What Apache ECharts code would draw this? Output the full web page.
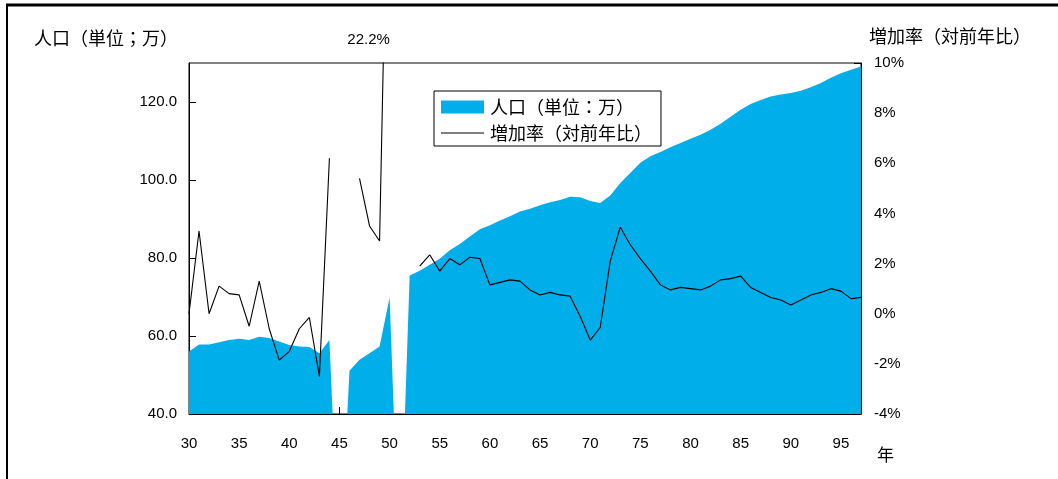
<!DOCTYPE html>
<html>
<head>
<meta charset="utf-8">
<script src="https://cdn.jsdelivr.net/npm/echarts@6/dist/echarts.min.js"></script>
<style>
html,body{margin:0;padding:0;background:#fff;}
#main{width:1058px;height:479px;}
</style>
</head>
<body>
<div id="main"></div>
<script>
const years = [30,31,32,33,34,35,36,37,38,39,40,41,42,43,44,45,46,47,48,49,50,51,52,53,54,55,56,57,58,59,60,61,62,63,64,65,66,67,68,69,70,71,72,73,74,75,76,77,78,79,80,81,82,83,84,85,86,87,88,89,90,91,92,93,94,95,96,97];
const population = [56.0,57.8,57.8,58.4,59.0,59.3,59.0,59.8,59.5,58.6,57.7,57.3,57.2,55.6,59.0,0,51.1,53.9,55.6,57.3,69.9,0,75.5,76.7,78.3,79.8,82.0,83.6,85.5,87.4,88.4,89.6,90.7,91.9,92.6,93.5,94.3,94.9,95.7,95.6,94.6,94.1,96.0,99.2,101.8,104.4,106.1,107.2,108.4,109.5,110.6,111.6,112.9,114.4,116.2,118.0,119.5,120.5,121.4,121.9,122.3,122.9,123.8,124.9,126.2,127.4,128.3,129.1];
const growthRate = [0.0,3.3,0.0,1.1,0.8,0.75,-0.5,1.3,-0.6,-1.85,-1.5,-0.6,-0.15,-2.5,6.2,null,null,5.4,3.5,2.9,22.2,null,null,1.9,2.35,1.7,2.2,1.95,2.25,2.2,1.15,1.25,1.35,1.3,0.95,0.75,0.85,0.75,0.7,-0.1,-1.05,-0.55,2.1,3.45,2.75,2.2,1.7,1.15,0.95,1.05,1.0,0.95,1.1,1.35,1.4,1.5,1.05,0.85,0.65,0.55,0.35,0.55,0.75,0.85,1.0,0.9,0.6,0.65];
const popName = '人口（単位：万）';
const rateName = '増加率（対前年比）';
const leftTitle = '人口（単位；万）';
const rightTitle = '増加率（対前年比）';
const xName = '年';
const labelledYears = [44, 50];

const NUM = "'Liberation Sans', Arial, sans-serif";
const CJK = "'Noto Sans CJK TC', 'Noto Sans CJK JP', sans-serif";

const popData = years.map((y, i) => [y, population[i]]);
const rateData = years.map((y, i) => {
  const v = growthRate[i];
  if (y === labelledYears[0]) {
    return { value: [y, v], label: { show: true, position: 'top', distance: 7, formatter: v + '%', fontFamily: NUM, fontSize: 15, color: '#000' } };
  }
  return [y, v];
});

const chart = echarts.init(document.getElementById('main'), null, { renderer: 'canvas' });
const option = {
  animation: false,
  backgroundColor: '#fff',
  grid: { left: 189, right: 197, top: 63, bottom: 65, show: true, borderColor: '#000', borderWidth: 1, backgroundColor: 'transparent' },
  legend: {
    left: 434, top: 91, orient: 'vertical',
    borderColor: '#000', borderWidth: 1, borderRadius: 0,
    padding: [7, 9, 4, 7], itemGap: 8, itemWidth: 43, itemHeight: 13,
    textStyle: { fontFamily: CJK, fontSize: 18, color: '#000', lineHeight: 18, padding: [0, 0, 0, 1] },
    data: [
      { name: popName, icon: 'rect' },
      { name: rateName, icon: 'path://M0,0 L43,0 L43,1 L0,1 Z' }
    ]
  },
  xAxis: {
    type: 'value', min: 30, max: 97, interval: 5,
    axisLine: { show: true, onZero: false, lineStyle: { color: '#000', width: 1 } },
    axisTick: { show: true, inside: true, length: 7, lineStyle: { color: '#000' } },
    axisLabel: { margin: 22, fontFamily: NUM, fontSize: 15, color: '#000', showMaxLabel: false },
    splitLine: { show: false }
  },
  yAxis: [
    {
      type: 'value', min: 40, max: 130, interval: 20, position: 'left',
      axisLine: { show: true, onZero: false, lineStyle: { color: '#000', width: 1 } },
      axisTick: { show: true, inside: true, length: 7, lineStyle: { color: '#000' } },
      axisLabel: { margin: 12, fontFamily: NUM, fontSize: 15, color: '#000', showMaxLabel: false, formatter: v => v.toFixed(1) },
      splitLine: { show: false }
    },
    {
      type: 'value', min: -4, max: 10, interval: 2, position: 'right',
      axisLine: { show: true, onZero: false, lineStyle: { color: '#000', width: 1 } },
      axisTick: { show: true, inside: true, length: 7, lineStyle: { color: '#000' } },
      axisLabel: { margin: 13, fontFamily: NUM, fontSize: 15, color: '#000', formatter: v => v + '%' },
      splitLine: { show: false }
    }
  ],
  series: [
    {
      name: popName, type: 'line', yAxisIndex: 0, data: popData,
      symbol: 'none', smooth: false, clip: true,
      itemStyle: { color: '#00AEEA' },
      lineStyle: { width: 0, color: '#00AEEA' },
      areaStyle: { color: '#00AEEA', opacity: 1 },
      z: 1
    },
    {
      name: rateName, type: 'line', yAxisIndex: 1, data: rateData,
      symbol: 'none', connectNulls: false, clip: true,
      itemStyle: { color: '#000' },
      lineStyle: { width: 1.1, color: '#000' },
      z: 3
    }
  ]
};
chart.setOption(option);

const idx50 = years.indexOf(labelledYears[1]);
const p = chart.convertToPixel({ xAxisIndex: 0, yAxisIndex: 1 }, [labelledYears[1], 10]);
chart.setOption({
  graphic: [
    { type: 'rect', shape: { x: 6, y: 3.5, width: 1052, height: 3 }, style: { fill: '#000' }, silent: true },
    { type: 'rect', shape: { x: 6, y: 4, width: 2, height: 475 }, style: { fill: '#000' }, silent: true },
    { type: 'text', left: 34, top: 29, style: { text: leftTitle, fontFamily: CJK, fontSize: 18, fill: '#000' } },
    { type: 'text', left: 869, top: 27, style: { text: rightTitle, fontFamily: CJK, fontSize: 18, fill: '#000' } },
    { type: 'text', left: 877, top: 446, style: { text: xName, fontFamily: CJK, fontSize: 17, fill: '#000' } },
    { type: 'text', x: p[0] - 21, y: p[1] - 23, style: { text: growthRate[idx50] + '%', fontFamily: NUM, fontSize: 15, fill: '#000', align: 'center', verticalAlign: 'middle' } }
  ]
});
</script>
</body>
</html>
